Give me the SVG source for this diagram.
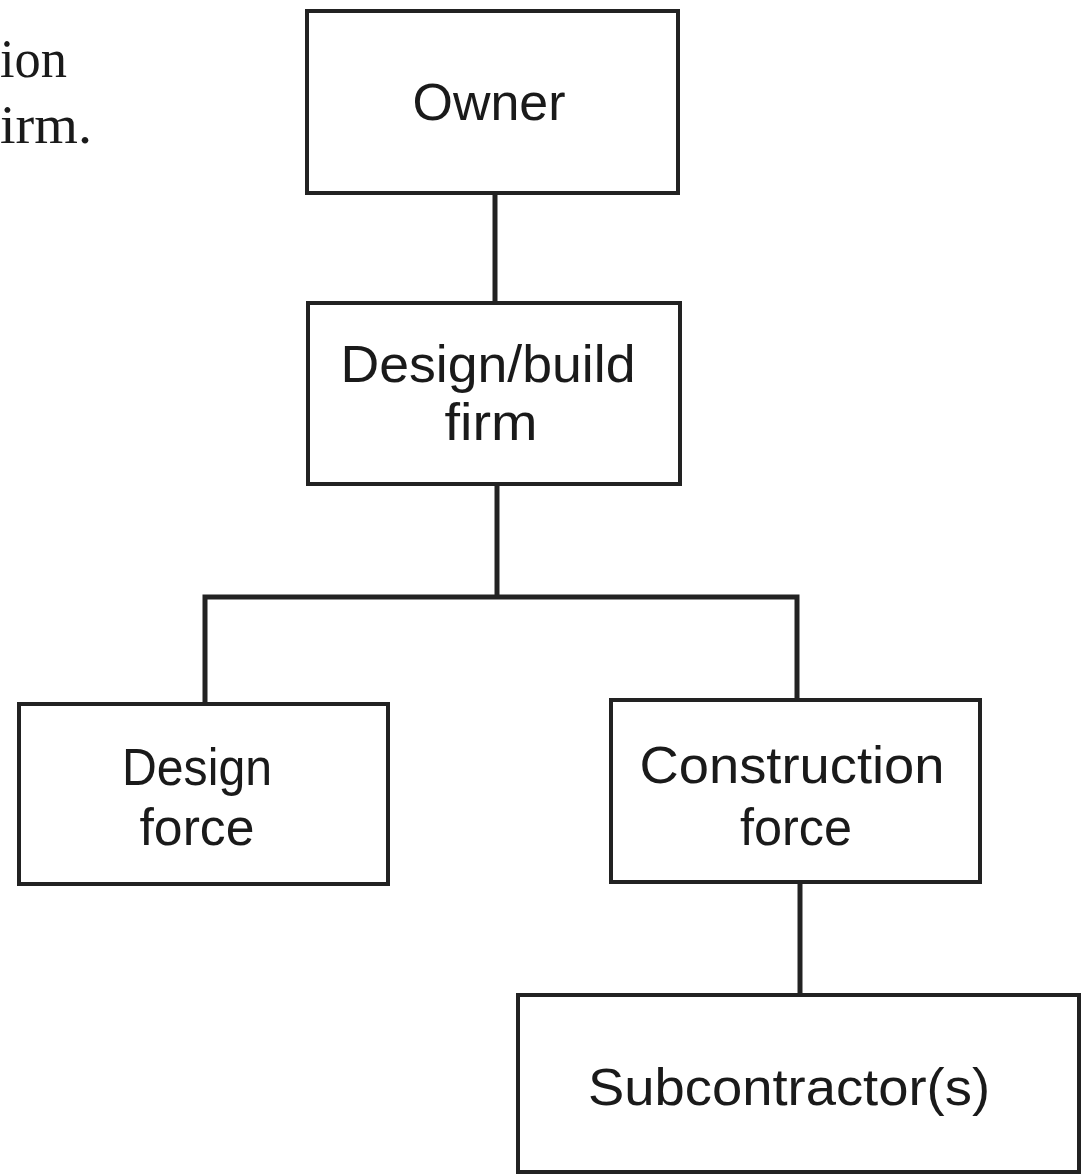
<svg xmlns="http://www.w3.org/2000/svg" width="1089" height="1175" viewBox="0 0 1089 1175">
<style>
.box{fill:#ffffff;stroke:#222;stroke-width:4}
.lbl{font-family:"Liberation Sans","DejaVu Sans",sans-serif;font-size:52px;fill:#1a1a1a;text-anchor:middle}
.cap{font-family:"Liberation Serif","DejaVu Serif",serif;font-size:54px;fill:#1a1a1a}
.con{fill:none;stroke:#222;stroke-width:5}
</style>
<rect width="1089" height="1175" fill="#ffffff"/>
<g id="caption">
<text class="cap" x="0" y="77" textLength="67" lengthAdjust="spacingAndGlyphs">ion</text>
<text class="cap" x="0" y="143" textLength="92" lengthAdjust="spacingAndGlyphs">irm.</text>
</g>
<g id="connectors">
<line class="con" x1="495" y1="193" x2="495" y2="303"/>
<line class="con" x1="497" y1="484" x2="497" y2="597"/>
<polyline class="con" points="205,703 205,597 797,597 797,700"/>
<line class="con" x1="800" y1="882" x2="800" y2="995"/>
</g>
<g id="owner">
<rect class="box" x="307" y="11" width="371" height="182"/>
<text class="lbl" x="489" y="120" textLength="153" lengthAdjust="spacingAndGlyphs">Owner</text>
</g>
<g id="design-build-firm">
<rect class="box" x="308" y="303" width="372" height="181"/>
<text class="lbl" x="488" y="382" textLength="295" lengthAdjust="spacingAndGlyphs">Design/build</text>
<text class="lbl" x="491" y="440" textLength="93" lengthAdjust="spacingAndGlyphs">firm</text>
</g>
<g id="design-force">
<rect class="box" x="19" y="704" width="369" height="180"/>
<text class="lbl" x="197" y="785" textLength="150" lengthAdjust="spacingAndGlyphs">Design</text>
<text class="lbl" x="197" y="845" textLength="115" lengthAdjust="spacingAndGlyphs">force</text>
</g>
<g id="construction-force">
<rect class="box" x="611" y="700" width="369" height="182"/>
<text class="lbl" x="792" y="783" textLength="305" lengthAdjust="spacingAndGlyphs">Construction</text>
<text class="lbl" x="796" y="845" textLength="112" lengthAdjust="spacingAndGlyphs">force</text>
</g>
<g id="subcontractors">
<rect class="box" x="518" y="995" width="561" height="177"/>
<text class="lbl" x="789" y="1105" textLength="402" lengthAdjust="spacingAndGlyphs">Subcontractor(s)</text>
</g>
</svg>
